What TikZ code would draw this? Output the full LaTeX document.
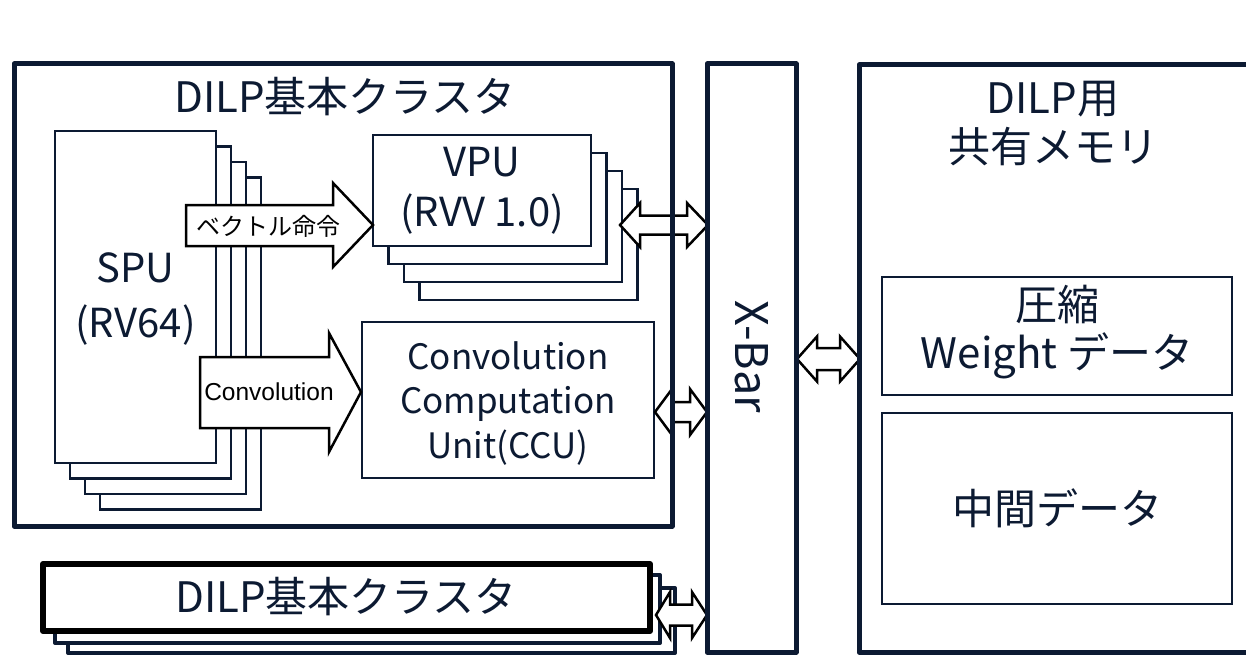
\documentclass[tikz,border=0pt]{standalone}
\usepackage{fontspec}
\setmainfont{Noto Sans CJK JP}
\newfontfamily\arialf{Liberation Sans}
\definecolor{navy}{RGB}{12,26,50}
\newcommand\dbla[7]{% tipL, baseL, baseR, tipR, y, body half, head half
  \draw[blockarrow] (#1,#5) -- (#2,#5-#7) -- (#2,#5-#6) -- (#3,#5-#6) -- (#3,#5-#7) -- (#4,#5)
    -- (#3,#5+#7) -- (#3,#5+#6) -- (#2,#5+#6) -- (#2,#5+#7) -- cycle;}
\begin{document}
\begin{tikzpicture}[x=1pt,y=-1pt,
  thickbox/.style={draw=navy,line width=5pt,line join=round},
  unitbox/.style={draw=navy,line width=2.5pt,fill=white},
  blockarrow/.style={draw=black,line width=2.5pt,fill=white,line join=miter},
  lbl/.style={text=navy,align=center,inner sep=0pt,font=\fontsize{42}{53}\selectfont},
]
\clip (0,0) rectangle (1246,655);

% ---------- SPU stack ----------
\foreach \k in {3,2,1,0}{
  \draw[unitbox] (55+15*\k,131+15.5*\k) rectangle (216+15*\k,463+15.5*\k);
}
\node[lbl,font=\fontsize{40}{55}\selectfont] (spu) at (135.5,299) {SPU\\(RV64)};

% ---------- VPU stack ----------
\foreach \k in {3,2,1,0}{
  \draw[unitbox] (373+15.5*\k,135+18*\k) rectangle (591+15.5*\k,246+18*\k);
}
\node[lbl,font=\fontsize{40}{50}\selectfont] (vpu) at (482,191) {VPU\\(RVV 1.0)};

% ---------- CCU ----------
\draw[unitbox] (362,322) rectangle (654,478);
\node[lbl,font=\fontsize{35}{44.5}\selectfont] (ccu) at (508,403) {Convolution\\Computation\\Unit(CCU)};

% ---------- block arrows ----------
\draw[blockarrow] (186,205) -- (333,205) -- (333,183) -- (373,225) -- (333,267) -- (333,246) -- (186,246) -- cycle;
\node[inner sep=0pt,text=black,font=\fontsize{24}{28}\selectfont] (vecl) at (268,226) {ベクトル命令};

\draw[blockarrow] (200,357) -- (329,357) -- (329,333) -- (361,392) -- (329,452) -- (329,428) -- (200,428) -- cycle;
\node[inner sep=0pt,text=black,font=\arialf\fontsize{24.5}{28}\selectfont] (convl) at (269,392) {Convolution};

% ---------- bottom cluster stack ----------
\draw[draw=navy,line width=4pt,fill=white,line join=round] (68,588) rectangle (675,653);
\draw[draw=navy,line width=4pt,fill=white,line join=round] (55,575) rectangle (660,643);

% ---------- double arrows ----------
\dbla{620}{640}{687}{708}{225}{9.5}{22}
\dbla{655}{672}{690}{707}{412}{10}{23}
\dbla{797}{817}{840}{860}{359}{11}{22.5}
\dbla{656}{670}{692}{707}{615}{10.5}{23}

\draw[draw=black,line width=6pt,fill=white,line join=round] (43,564) rectangle (650,631);
\node[lbl] (bcl) at (346,597) {DILP基本クラスタ};

% ---------- main cluster frame ----------
\draw[thickbox] (14,64) rectangle (672,526);
\node[lbl] (cl) at (345,97) {DILP基本クラスタ};

% ---------- X-Bar ----------
\draw[thickbox] (707,64) rectangle (796,652);
\node[lbl,rotate=-90,font=\fontsize{45}{50}\selectfont] (xbar) at (752,357) {X-Bar};

% ---------- shared memory ----------
\draw[thickbox] (1262,65) -- (859,65) -- (859,652) -- (1262,652);
\node[lbl,font=\fontsize{42}{49}\selectfont] (mem) at (1053,124) {DILP用\\共有メモリ};
\draw[unitbox] (882,277) rectangle (1232,395);
\node[lbl,font=\fontsize{42}{48}\selectfont] (wt) at (1057,332) {圧縮\\Weight データ};
\draw[unitbox] (882,413) rectangle (1232,604);
\node[lbl] (mid) at (1057,508) {中間データ};
\end{tikzpicture}
\end{document}
